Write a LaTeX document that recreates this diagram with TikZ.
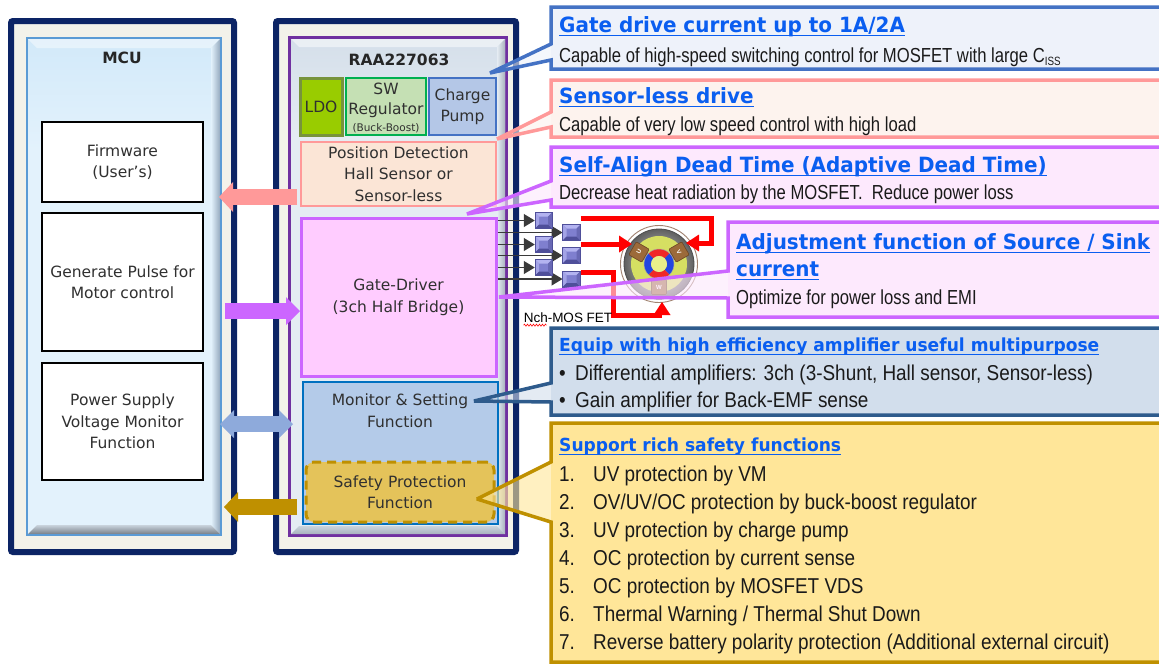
\documentclass[tikz,border=0pt]{standalone}
\usepackage{fontspec}
\setmainfont{DejaVu Sans}
\newfontfamily\blkfont{DejaVu Sans}
\newfontfamily\narfont[FakeStretch=0.82]{Liberation Sans}
\newfontfamily\narwfont[FakeStretch=0.88]{Liberation Sans}
\newfontfamily\hdfont[FakeStretch=0.95]{DejaVu Sans}
\newfontfamily\arialfont{Liberation Sans}
\usetikzlibrary{arrows.meta,calc,decorations.pathmorphing}

\definecolor{navyC}{HTML}{0C2465}
\definecolor{creamC}{HTML}{F3F2EA}
\definecolor{mcuP}{HTML}{E3F2FC}
\definecolor{mcuTop}{HTML}{D2E9F9}
\definecolor{bevR}{HTML}{8DA2B8}
\definecolor{bevB1}{HTML}{C9D3DC}
\definecolor{bevB2}{HTML}{6F7780}
\definecolor{mcuLine}{HTML}{5B9BD5}
\definecolor{purpC}{HTML}{7030A0}
\definecolor{raaP}{HTML}{E5ECF3}
\definecolor{raaTop}{HTML}{D5DFEA}
\definecolor{raaR}{HTML}{A9B3BE}
\definecolor{txtC}{HTML}{303030}
\definecolor{ldoF}{HTML}{99CC00}
\definecolor{ldoD}{HTML}{77933C}
\definecolor{swF}{HTML}{C5E0B4}
\definecolor{swD}{HTML}{00B050}
\definecolor{cpF}{HTML}{B4C7E7}
\definecolor{cpD}{HTML}{4472C4}
\definecolor{pdF}{HTML}{FBE5D6}
\definecolor{pdD}{HTML}{FF9999}
\definecolor{gdF}{HTML}{FFCCFF}
\definecolor{gdD}{HTML}{CC66FF}
\definecolor{monF}{HTML}{B4CBE9}
\definecolor{monD}{HTML}{0070C0}
\definecolor{safF}{HTML}{E4C35A}
\definecolor{safD}{HTML}{BF9000}
\definecolor{arPink}{HTML}{FF9999}
\definecolor{arPurp}{HTML}{CC66FF}
\definecolor{arBlue}{HTML}{8EAADB}
\definecolor{arGold}{HTML}{BF9000}
\definecolor{c1F}{HTML}{EEF2FA}
\definecolor{c1D}{HTML}{4472C4}
\definecolor{c2F}{HTML}{FDF3EE}
\definecolor{c2D}{HTML}{FF9999}
\definecolor{c3F}{HTML}{FDE9FD}
\definecolor{c3D}{HTML}{CC66FF}
\definecolor{c5F}{HTML}{D2DEEC}
\definecolor{c5D}{HTML}{2E5B8C}
\definecolor{c6F}{HTML}{FFE699}
\definecolor{c6D}{HTML}{BF9000}
\definecolor{hdC}{HTML}{0A5EF0}
\definecolor{bdC}{HTML}{1A1A1A}
\definecolor{fetM}{HTML}{7F7FCF}
\definecolor{fetL}{HTML}{B3B3F0}
\definecolor{fetS}{HTML}{A3A3E6}
\definecolor{fetK}{HTML}{4F4F9A}
\definecolor{fetR}{HTML}{6868B4}
\definecolor{gateC}{HTML}{3A3A3A}
\definecolor{redC}{HTML}{FF0000}
\definecolor{wireC}{HTML}{A08270}
\definecolor{statC}{HTML}{D6DF62}
\definecolor{armC}{HTML}{8E8E8E}
\definecolor{coilF}{HTML}{9C6A3A}
\definecolor{coilD}{HTML}{6B4423}
\definecolor{rotR}{HTML}{F02828}
\definecolor{rotB}{HTML}{2346E0}
\definecolor{rotY}{HTML}{E9EF8A}

% callout: fill, draw, top, bottom, left, wedge upper, wedge lower, tip
\newcommand\drawcallout[8]{%
  \fill[#1] (#5,#3) rectangle (1175,#4);
  \fill[#1,opacity=.6] (#5,#6) -- (#8) -- (#5,#7) -- cycle;
  \draw[#2,line width=3.5pt,line join=miter,miter limit=2]
    (1175,#3) -- (#5,#3) -- (#5,#6) -- (#8) -- (#5,#7) -- (#5,#4) -- (1175,#4);}
% underline below a heading node
\newcommand\underl[1]{%
  \draw[hdC,line width=1.3pt] ($(#1.base west)+(0,3.6)$) -- ($(#1.base east)+(0,3.6)$);}

\begin{document}
\begin{tikzpicture}[x=1pt,y=-1pt,
  blkbox/.style={draw=black,line width=2.2pt,fill=white,align=center,inner sep=0pt,
    text=txtC,font=\blkfont\fontsize{15.5}{21.5}\selectfont},
  lbl/.style={align=center,inner sep=0pt,text=txtC,font=\blkfont\fontsize{15.5}{21.5}\selectfont},
  ttlb/.style={inner sep=0pt,text=black!85,font=\blkfont\bfseries\fontsize{15.5}{18}\selectfont},
  hd/.style={anchor=base west,inner sep=0pt,text=hdC,font=\hdfont\bfseries\fontsize{21}{25}\selectfont},
  hds/.style={hd,font=\hdfont\bfseries\fontsize{18}{22}\selectfont},
  bd/.style={anchor=base west,inner sep=0pt,text=bdC,font=\narfont\fontsize{20.3}{24}\selectfont},
  bdw/.style={anchor=base west,inner sep=0pt,text=bdC,font=\narwfont\fontsize{21.5}{26}\selectfont},
  blockarrow/.style={line width=16pt},
  fet/.style={rectangle,minimum width=17pt,minimum height=16pt,inner sep=0pt,
    fill=fetM,draw=fetK,line width=0.5pt,
    path picture={
      \coordinate (pa) at (path picture bounding box.north west);
      \coordinate (pb) at (path picture bounding box.north east);
      \coordinate (pc) at (path picture bounding box.south east);
      \coordinate (pd) at (path picture bounding box.south west);
      \fill[fetL] (pa) -- (pb) -- ($(pb)+(-4pt,-4pt)$) -- ($(pa)+(4pt,-4pt)$) -- cycle;
      \fill[fetS] (pa) -- (pd) -- ($(pd)+(4pt,4pt)$) -- ($(pa)+(4pt,-4pt)$) -- cycle;
      \fill[fetK] (pd) -- (pc) -- ($(pc)+(-4pt,4pt)$) -- ($(pd)+(4pt,4pt)$) -- cycle;
      \fill[fetR] (pb) -- (pc) -- ($(pc)+(-4pt,4pt)$) -- ($(pb)+(-4pt,-4pt)$) -- cycle;
    }},
  gateline/.style={gateC,line width=1.2pt,-{Triangle[length=11pt,width=13pt]}},
  redline/.style={redC,line width=5pt,-{Triangle[length=13pt,width=17pt,line width=0pt]}},
  coil/.style={rectangle,fill=coilF,draw=coilD,line width=0.6pt,minimum width=15pt,
    minimum height=15pt,inner sep=0pt,rounded corners=1pt,text=white,
    font=\arialfont\bfseries\fontsize{6}{6}\selectfont}
]
\useasboundingbox (0,0) rectangle (1159,664);
\clip (0,0) rectangle (1159,664);
\fill[white] (0,0) rectangle (1159,664);

% ---------------- MCU frame ----------------
\draw[navyC,line width=6pt,fill=creamC,rounded corners=2pt] (11,21) rectangle (234,552);
\fill[mcuP] (27,38) rectangle (221,535);
\shade[top color=mcuTop,bottom color=mcuP] (27,38) rectangle (221,150);
\fill[white,opacity=.45] (27,38) -- (221,38) -- (211,48) -- (37,48) -- cycle;
\shade[left color=mcuP,right color=bevR] (211,48) -- (221,38) -- (221,535) -- (211,525) -- cycle;
\shade[top color=bevB1,bottom color=bevB2] (37,525) -- (211,525) -- (221,535) -- (27,535) -- cycle;
\draw[mcuLine,line width=1.5pt] (27,38) rectangle (221,535);
\node[ttlb] (mcu) at (122,58) {MCU};

\node[blkbox,minimum width=161pt,minimum height=80pt] (fw) at (122.5,162) {Firmware\\(User’s)};
\node[blkbox,minimum width=161pt,minimum height=138pt] (gp) at (122.5,282) {Generate Pulse for\\Motor control};
\node[blkbox,minimum width=161pt,minimum height=117pt] (ps) at (122.5,421.5) {Power Supply\\Voltage Monitor\\Function};

% ---------------- RAA227063 frame ----------------
\draw[navyC,line width=6pt,fill=creamC,rounded corners=2pt] (276,21) rectangle (516,552);
\draw[purpC,line width=3pt] (289.5,37.5) rectangle (506.5,535.5);
\fill[raaP] (291,39) rectangle (505,534);
\shade[top color=raaTop,bottom color=raaP] (291,39) rectangle (505,140);
\fill[white,opacity=.5] (291,39) -- (505,39) -- (497,47) -- (299,47) -- cycle;
\shade[left color=raaP,right color=raaR] (497,47) -- (505,39) -- (505,534) -- (497,526) -- cycle;
\shade[top color=bevB1,bottom color=raaR] (299,526) -- (497,526) -- (505,534) -- (291,534) -- cycle;
\node[ttlb] (raa) at (399,60) {RAA227063};

\node[lbl,fill=ldoF,draw=ldoD,line width=3pt,minimum width=42pt,minimum height=57pt] (ldo) at (321,106.5) {LDO};
\node[fill=swF,draw=swD,line width=2.5pt,minimum width=80pt,minimum height=57pt,inner sep=0pt] (sw) at (386,106.5) {};
\node[lbl] (swl) at (386,89) {SW};
\node[lbl] (swr) at (386,110) {Regulator};
\node[lbl,font=\blkfont\fontsize{10.5}{12}\selectfont] (swb) at (386,128) {(Buck-Boost)};
\node[lbl,fill=cpF,draw=cpD,line width=2.5pt,minimum width=67pt,minimum height=57pt] (cp) at (462.5,106.5) {Charge\\Pump};
\node[lbl,fill=pdF,draw=pdD,line width=2.5pt,minimum width=195pt,minimum height=64pt] (pd) at (398.5,174) {Position Detection\\Hall Sensor or\\Sensor-less};
\node[lbl,fill=gdF,draw=gdD,line width=3pt,minimum width=195pt,minimum height=158pt] (gd) at (398.5,297) {Gate-Driver\\(3ch Half Bridge)};
\node[fill=monF,draw=monD,line width=2.5pt,minimum width=195pt,minimum height=142pt,inner sep=0pt] (mon) at (400.5,453) {};
\node[lbl] (monl) at (400,410.5) {Monitor \& Setting\\Function};
\node[lbl,fill=safF,draw=safD,line width=3pt,dashed,dash pattern=on 9pt off 6pt,rounded corners=8pt,
  minimum width=188pt,minimum height=60pt] (saf) at (400,492) {Safety Protection\\Function};

% ---------------- block arrows between MCU and RAA ----------------
\coordinate (pk1) at (297,197); \coordinate (pk2) at (219,197);
\coordinate (pu1) at (225,311); \coordinate (pu2) at (300,311);
\coordinate (bl1) at (220,424); \coordinate (bl2) at (293,424);
\coordinate (go1) at (297,507); \coordinate (go2) at (224,507);
\draw[blockarrow,arPink,-{Triangle[length=14pt,width=30pt,line width=0pt]}] (pk1) -- (pk2);
\draw[blockarrow,arPurp,-{Triangle[length=14pt,width=28pt,line width=0pt]}] (pu1) -- (pu2);
\draw[blockarrow,arBlue,{Triangle[length=14pt,width=28pt,line width=0pt]}-{Triangle[length=14pt,width=28pt,line width=0pt]}] (bl1) -- (bl2);
\draw[blockarrow,arGold,-{Triangle[length=14pt,width=30pt,line width=0pt]}] (go1) -- (go2);

% ---------------- MOSFET bridge ----------------
\coordinate (g1) at (543.5,220.5);
\coordinate (g2) at (543.5,244.5);
\coordinate (g3) at (543.5,267.5);
\coordinate (g4) at (571.5,232.5);
\coordinate (g5) at (571.5,255.5);
\coordinate (g6) at (571.5,279);
\draw[gateline] (gd.east |- g4) -- ($(g4)+(-9,0)$) coordinate (e4);
\draw[gateline] (gd.east |- g5) -- ($(g5)+(-9,0)$) coordinate (e5);
\draw[gateline] (gd.east |- g6) -- ($(g6)+(-9,0)$) coordinate (e6);
\node[fet] (f1) at (g1) {};
\node[fet] (f2) at (g2) {};
\node[fet] (f3) at (g3) {};
\draw[gateline] (gd.east |- f1.west) -- (f1.west);
\draw[gateline] (gd.east |- f2.west) -- (f2.west);
\draw[gateline] (gd.east |- f3.west) -- (f3.west);
\node[fet,minimum width=18pt] (f4) at (g4) {};
\node[fet,minimum width=18pt] (f5) at (g5) {};
\node[fet,minimum width=18pt] (f6) at (g6) {};

% ---------------- motor ----------------
\node[circle,draw=wireC,line width=0.9pt,minimum size=77pt,inner sep=0pt] (mot) at (659,264) {};
\shade[inner color=gray!25,outer color=gray!75!black,draw=gray!60!black,line width=0.8pt] (mot.center) circle[radius=35];
\fill[statC] (mot.center) circle[radius=28];
\coordinate (kU) at (639,252);
\coordinate (kV) at (679,252);
\coordinate (kW) at (659,287);
\draw[armC,line width=7pt] (mot.center) -- (kU);
\draw[armC,line width=7pt] (mot.center) -- (kV);
\draw[armC,line width=7pt] (mot.center) -- (kW);
\node[coil,rotate=60] (cu) at (kU) {U};
\node[coil,rotate=-60] (cv) at (kV) {V};
\node[coil] (cw) at (kW) {W};
\foreach \a/\c in {45/rotR,135/rotB,225/rotR,315/rotB}{
  \fill[\c] ($(mot.center)+(\a:15)$) arc[start angle=\a,delta angle=90,radius=15]
    -- ($(mot.center)+(\a+90:8)$) arc[start angle=\a+90,delta angle=-90,radius=8] -- cycle;}
\fill[rotY] (mot.center) circle[radius=8];
\draw[gray!70,line width=0.5pt] (mot.center) circle[radius=15];

% phase wiring from the FETs to the windings
\coordinate (r1) at (711,218);
\coordinate (r1e) at (686,243);
\coordinate (r2) at (632,244);
\coordinate (r3) at (613,272);
\coordinate (r3e) at (662,302);
\draw[redline] (f4.east |- r1) -- (r1) |- (r1e);
\draw[redline] (f5.east |- r2) -- (r2);
\draw[redline] (f6.east |- r3) -- (r3) -- (613,315) -| (r3e);

% ---------------- callouts ----------------
\coordinate (t1) at (490,73);
\coordinate (t2) at (497,139);
\coordinate (t3) at (467,214);
\coordinate (t4) at (499,297);
\coordinate (t5) at (474,401);
\coordinate (t6) at (477,499);
\drawcallout{c1F}{c1D}{7}{69}{551}{44}{60}{t1}
\drawcallout{c2F}{c2D}{80}{137}{551}{112}{127}{t2}
\drawcallout{c3F}{c3D}{147}{207}{551}{181}{200}{t3}
\drawcallout{c3F}{c3D}{222}{317}{728}{271}{298}{t4}
\drawcallout{c5F}{c5D}{328}{415}{551}{383}{402}{t5}
\drawcallout{c6F}{c6D}{423}{662}{551}{462}{522}{t6}

\node[hd] (h1) at (559,32) {Gate drive current up to 1A/2A};
\node[bd] (b1) at (559,62) {Capable of high-speed switching control for MOSFET with large C\raisebox{-3pt}{\fontsize{12}{12}\selectfont ISS}};
\node[hd] (h2) at (559,103) {Sensor-less drive};
\node[bd] (b2) at (559,131) {Capable of very low speed control with high load};
\node[hd] (h3) at (559,172) {Self-Align Dead Time (Adaptive Dead Time)};
\node[bd] (b3) at (559,199) {Decrease heat radiation by the MOSFET.\ \ Reduce power loss};
\node[hd] (h4) at (736,249) {Adjustment function of Source / Sink};
\node[hd] (h4b) at (736,276) {current};
\node[bd] (b4) at (736,304) {Optimize for power loss and EMI};
\node[hds] (h5) at (559,351) {Equip with high efficiency amplifier useful multipurpose};
\node[bdw] (b5a) at (559,380) {\makebox[16pt][l]{•}Differential amplifiers: 3ch (3-Shunt, Hall sensor, Sensor-less)};
\node[bdw] (b5b) at (559,407) {\makebox[16pt][l]{•}Gain amplifier for Back-EMF sense};
\node[hds] (h6) at (559,451) {Support rich safety functions};
\foreach \h in {h1,h2,h3,h4,h4b,h5,h6}{\underl{\h}}
\node[bdw] (s1) at (559,481) {\makebox[34pt][l]{1.}UV protection by VM};
\node[bdw] (s2) at (559,509) {\makebox[34pt][l]{2.}OV/UV/OC protection by buck-boost regulator};
\node[bdw] (s3) at (559,537) {\makebox[34pt][l]{3.}UV protection by charge pump};
\node[bdw] (s4) at (559,565) {\makebox[34pt][l]{4.}OC protection by current sense};
\node[bdw] (s5) at (559,593) {\makebox[34pt][l]{5.}OC protection by MOSFET VDS};
\node[bdw] (s6) at (559,621) {\makebox[34pt][l]{6.}Thermal Warning / Thermal Shut Down};
\node[bdw] (s7) at (559,649) {\makebox[34pt][l]{7.}Reverse battery polarity protection (Additional external circuit)};

% ---------------- FET label ----------------
\node[inner sep=0pt,text=black,font=\arialfont\fontsize{13.5}{15}\selectfont] (nch) at (568,318) {Nch-MOS FET};
\draw[red,line width=0.6pt,decorate,decoration={snake,amplitude=1pt,segment length=3pt}]
  ($(nch.south west)+(0,2)$) -- ($(nch.south west)+(23,2)$);
\end{tikzpicture}
\end{document}
